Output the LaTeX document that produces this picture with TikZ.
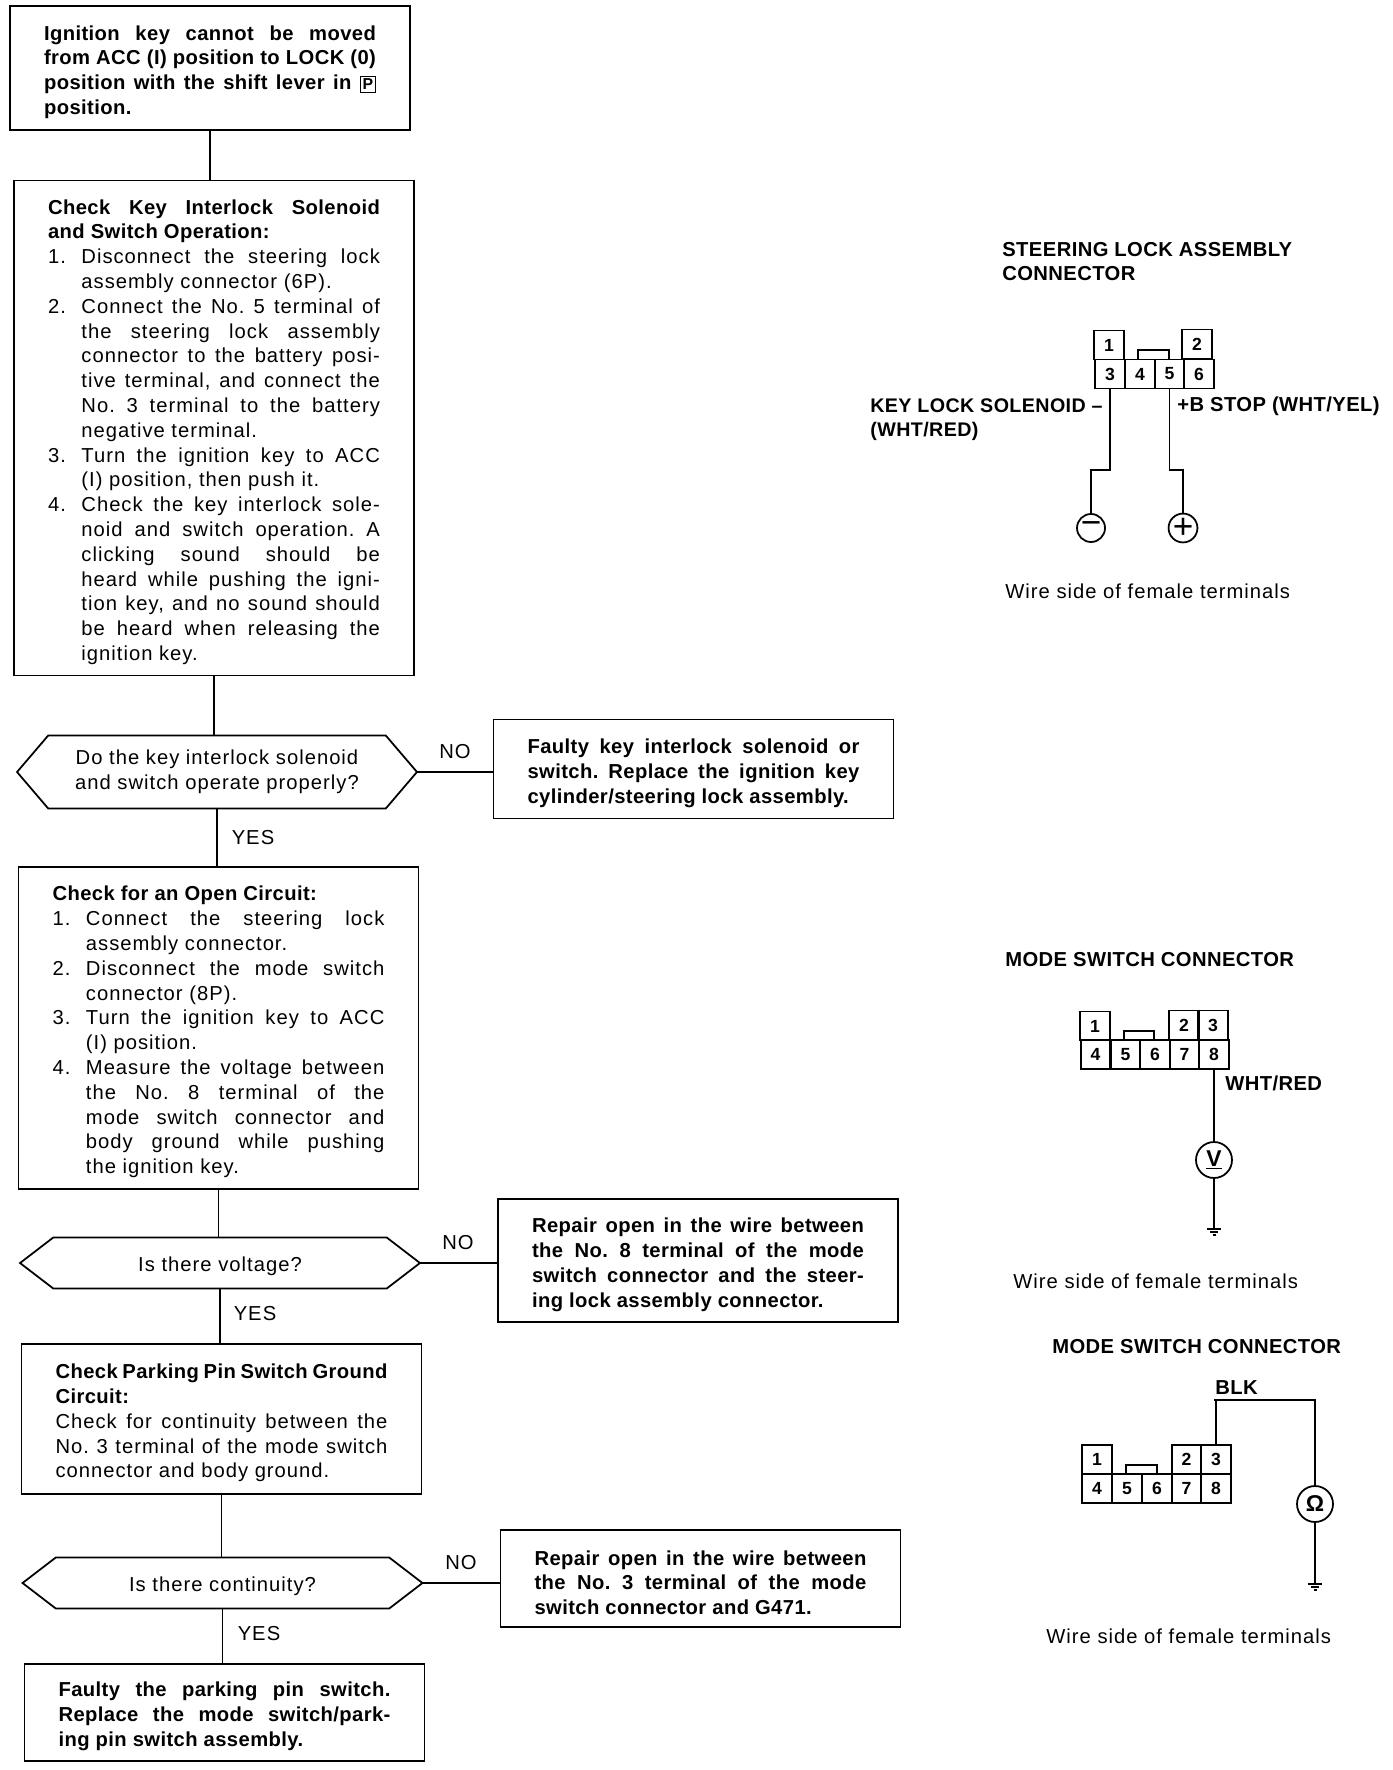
\documentclass[tikz,border=0pt]{standalone}
\usepackage{fontspec}
\setmainfont[LetterSpace=5,BoldFeatures={LetterSpace=2}]{Liberation Sans}
\usetikzlibrary{shapes.symbols}
\newcommand{\stepfont}{\fontsize{11.5}{14.12}\selectfont\frenchspacing\tolerance=10000\hyphenpenalty=10000\relax}
\newcommand{\stepitem}[1]{\par\noindent\hangindent=19pt\hangafter=1\makebox[19pt][l]{#1.}}
\tikzset{
  stepbox/.style={draw,line width=1pt,rectangle,outer sep=0pt,inner xsep=0.68cm,inner ysep=0pt,text width=6.64cm,align=justify,font=\stepfont,execute at begin node={\rule{0pt}{13pt}}},
  boldbox/.style={stepbox,font=\stepfont\bfseries},
  question/.style={draw,line width=1pt,signal,signal to=west and east,outer sep=0pt,inner sep=0pt,minimum width=8cm,align=center,font=\stepfont,execute at begin node={\rule{0pt}{12pt}}},
  answer/.style={font=\stepfont},
  caption/.style={anchor=base west,inner sep=0pt,font=\stepfont\bfseries,align=left},
  sidenote/.style={anchor=base west,inner sep=0pt,font=\stepfont},
  cell/.style={draw,line width=1pt,rectangle,outer sep=0pt,inner sep=0pt,minimum width=0.59cm,minimum height=0.58cm,font=\fontsize{10}{12}\selectfont\bfseries},
  meter/.style={draw,line width=1pt,circle,outer sep=0pt,inner sep=0pt,minimum size=0.72cm,font=\fontsize{13}{14}\selectfont\bfseries},
  pole/.style={meter,minimum size=0.56cm,font=\fontsize{20}{20}\selectfont},
  wire/.style={line width=1pt}
}
\begin{document}
\begin{tikzpicture}[x=0.02cm,y=-0.02cm]
\useasboundingbox (0,0) rectangle (1392,1770);
% Flow chart boxes
\node[boldbox,minimum height=2.48cm] (ignkey) at (210,68) {Ignition key cannot be moved\linebreak from ACC (I) position to LOCK (0)\linebreak position with the shift lever in \fboxsep=1.2pt\fbox{\fontsize{9}{9}\selectfont P}\linebreak position.};
\node[stepbox,minimum height=9.9cm] (checksol) at (214,428) {\textbf{Check Key Interlock Solenoid\linebreak and Switch Operation:}
\stepitem{1}Disconnect the steering lock\linebreak assembly connector (6P).
\stepitem{2}Connect the No. 5 terminal of\linebreak the steering lock assembly\linebreak connector to the battery posi-\linebreak tive terminal, and connect the\linebreak No. 3 terminal to the battery\linebreak negative terminal.
\stepitem{3}Turn the ignition key to ACC\linebreak (I) position, then push it.
\stepitem{4}Check the key interlock sole-\linebreak noid and switch operation. A\linebreak clicking sound should be\linebreak heard while pushing the igni-\linebreak tion key, and no sound should\linebreak be heard when releasing the\linebreak ignition key.\par};
\node[question,signal pointer angle=99,minimum height=1.46cm] (qsol) at (217,772) {Do the key interlock solenoid\\and switch operate properly?};
\node[boldbox,minimum height=1.98cm] (faultsol) at (693.5,769) {Faulty key interlock solenoid or\linebreak switch. Replace the ignition key\linebreak cylinder/steering lock assembly.};
\node[stepbox,minimum height=6.44cm] (checkopen) at (218.5,1028) {\textbf{Check for an Open Circuit:}
\stepitem{1}Connect the steering lock\linebreak assembly connector.
\stepitem{2}Disconnect the mode switch\linebreak connector (8P).
\stepitem{3}Turn the ignition key to ACC\linebreak (I) position.
\stepitem{4}Measure the voltage between\linebreak the No. 8 terminal of the\linebreak mode switch connector and\linebreak body ground while pushing\linebreak the ignition key.\par};
\node[question,signal pointer angle=75,minimum height=1.02cm] (qvolt) at (220,1263) {Is there voltage?};
\node[boldbox,minimum height=2.46cm] (repairvolt) at (698,1260.5) {Repair open in the wire between\linebreak the No. 8 terminal of the mode\linebreak switch connector and the steer-\linebreak ing lock assembly connector.};
\node[stepbox,minimum height=3cm] (checkpin) at (221.5,1419) {\textbf{Check Parking Pin Switch Ground\linebreak Circuit:}\par\noindent Check for continuity between the\linebreak No. 3 terminal of the mode switch\linebreak connector and body ground.};
\node[question,signal pointer angle=75,minimum height=1.02cm] (qcont) at (222.5,1583) {Is there continuity?};
\node[boldbox,minimum height=1.94cm] (repaircont) at (700.5,1578.5) {Repair open in the wire between\linebreak the No. 3 terminal of the mode\linebreak switch connector and G471.};
\node[boldbox,minimum height=1.94cm] (faultpin) at (224.5,1712.5) {Faulty the parking pin switch.\linebreak Replace the mode switch/park-\linebreak ing pin switch assembly.};
% Flow chart lines
\draw[wire] (ignkey.south) -- (ignkey.south |- checksol.north);
\draw[wire] (checksol.south) -- (checksol.south |- qsol.north);
\draw[wire] (qsol.south) -- (qsol.south |- checkopen.north);
\draw[wire] (checkopen.south) -- (checkopen.south |- qvolt.north);
\draw[wire] (qvolt.south) -- (qvolt.south |- checkpin.north);
\draw[wire] (checkpin.south) -- (checkpin.south |- qcont.north);
\draw[wire] (qcont.south) -- (qcont.south |- faultpin.north);
\draw[wire] (qsol.east) -- (qsol.east -| faultsol.west);
\draw[wire] (qvolt.east) -- (qvolt.east -| repairvolt.west);
\draw[wire] (qcont.east) -- (qcont.east -| repaircont.west);
% Answers
\node[answer] (nosol) at (455,752) {NO};
\node[answer] (yessol) at (253,838) {YES};
\node[answer] (novolt) at (458,1243) {NO};
\node[answer] (yesvolt) at (255,1314) {YES};
\node[answer] (nocont) at (461,1563) {NO};
\node[answer] (yescont) at (259,1634) {YES};
% Steering lock assembly connector
\node[caption] (steertitle) at (1002,281) {STEERING LOCK ASSEMBLY\\CONNECTOR};
\node[cell] (sa) at (1109,345) {1};
\node[cell] (sb) at (1197,344) {2};
\node[cell] (sc) at (1110,374) {3};
\node[cell] (sd) at (1140,374) {4};
\node[cell] (se) at (1169.5,374) {5};
\node[cell] (sf) at (1199,374) {6};
\draw[wire] (1138,360) |- (1169,350) -- (1169,360);
\node[pole] (minus) at (1091,528) {−};
\node[pole] (plus) at (1183,528) {+};
\coordinate (sbendc) at (1110,470);
\coordinate (sbende) at (1169.5,470);
\draw[wire] (sc.south) -- (sbendc) -| (minus.north);
\draw[wire] (se.south) -- (sbende) -| (plus.north);
\node[caption,font=\fontsize{11.2}{14.12}\selectfont\bfseries] (keylock) at (870,437) {KEY LOCK SOLENOID –\\(WHT/RED)};
\node[caption] (bstop) at (1177,412) {+B STOP (WHT/YEL)};
\node[sidenote] (steerwire) at (1005,598) {Wire side of female terminals};
% Mode switch connector, voltage
\node[caption] (volttitle) at (1005,966) {MODE SWITCH CONNECTOR};
\node[cell] (va) at (1095,1026) {1};
\node[cell] (vb) at (1184,1025) {2};
\node[cell] (vc) at (1213,1025) {3};
\node[cell] (vd) at (1095.5,1054.5) {4};
\node[cell] (ve) at (1125.5,1054.5) {5};
\node[cell] (vf) at (1155,1054.5) {6};
\node[cell] (vg) at (1184.5,1054.5) {7};
\node[cell] (vh) at (1214,1054.5) {8};
\draw[wire] (1124,1040) |- (1154,1031) -- (1154,1040);
\node[meter] (vmeter) at (1214,1160) {\underline{V}};
\coordinate (vgnd) at (1214,1229);
\draw[wire] (vh.south) -- (vmeter.north);
\draw[wire] (vmeter.south) -- (vgnd);
\draw[wire] (1207,1229) -- (1221,1229) (1210,1232) -- (1218,1232) (1212.5,1235) -- (1215.5,1235);
\node[caption] (voltwht) at (1225,1090) {WHT/RED};
\node[sidenote] (voltwire) at (1013,1288) {Wire side of female terminals};
% Mode switch connector, continuity
\node[caption] (conttitle) at (1052,1353) {MODE SWITCH CONNECTOR};
\node[cell] (ca) at (1097,1459.5) {1};
\node[cell] (cb) at (1186.5,1459.5) {2};
\node[cell] (cc) at (1216,1459.5) {3};
\node[cell] (cd) at (1097,1488.5) {4};
\node[cell] (ce) at (1127,1488.5) {5};
\node[cell] (cf) at (1157,1488.5) {6};
\node[cell] (cg) at (1186.5,1488.5) {7};
\node[cell] (ch) at (1216,1488.5) {8};
\draw[wire] (1126,1474) |- (1157,1465) -- (1157,1474);
\node[meter] (ohm) at (1315,1504) {Ω};
\coordinate (cbend) at (1214,1400);
\coordinate (cgnd) at (1315,1584);
\draw[wire] (cc.north) |- (cbend) -| (ohm.north);
\draw[wire] (ohm.south) -- (cgnd);
\draw[wire] (1308,1584) -- (1322,1584) (1311,1587) -- (1319,1587) (1313.5,1590) -- (1316.5,1590);
\node[caption] (blk) at (1215,1394) {BLK};
\node[sidenote] (contwire) at (1046,1643) {Wire side of female terminals};
\end{tikzpicture}
\end{document}
